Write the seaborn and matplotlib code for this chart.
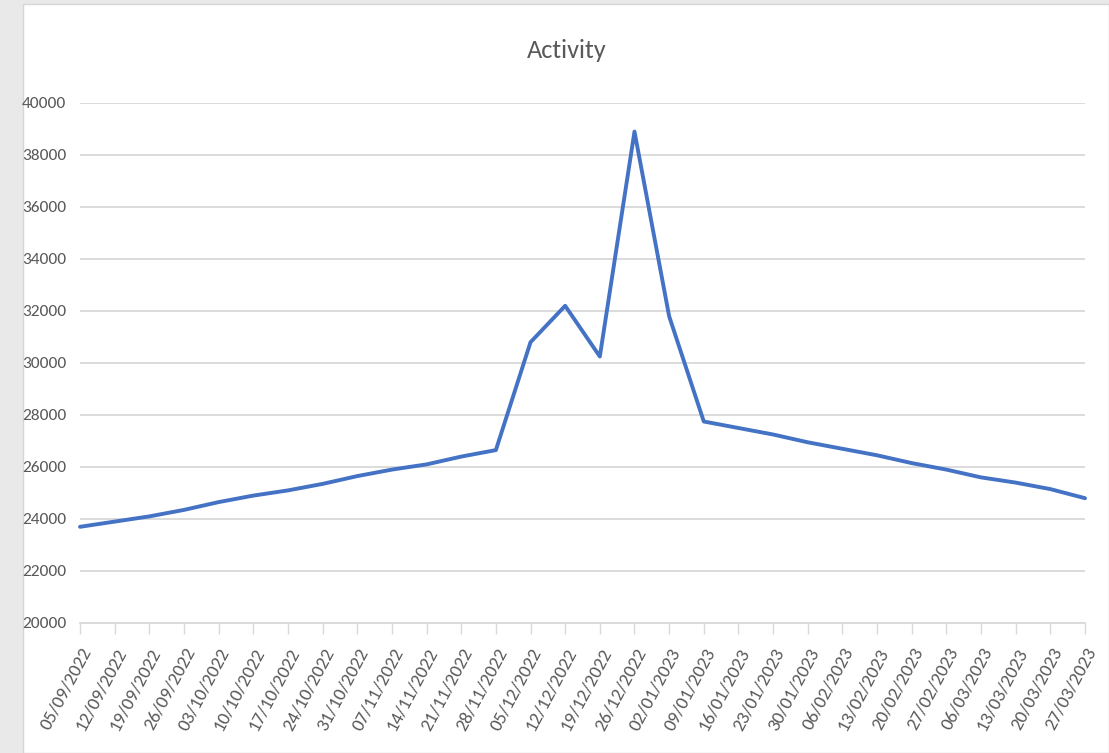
import numpy as np
import pandas as pd
import matplotlib
matplotlib.use("Agg")
import matplotlib.pyplot as plt
import seaborn as sns
from matplotlib import font_manager
from matplotlib.patches import Rectangle

dates = ["05/09/2022", "12/09/2022", "19/09/2022", "26/09/2022", "03/10/2022", "10/10/2022",
         "17/10/2022", "24/10/2022", "31/10/2022", "07/11/2022", "14/11/2022", "21/11/2022",
         "28/11/2022", "05/12/2022", "12/12/2022", "19/12/2022", "26/12/2022", "02/01/2023",
         "09/01/2023", "16/01/2023", "23/01/2023", "30/01/2023", "06/02/2023", "13/02/2023",
         "20/02/2023", "27/02/2023", "06/03/2023", "13/03/2023", "20/03/2023", "27/03/2023"]
activity = [23700, 23900, 24100, 24350, 24650, 24900, 25100, 25350, 25650, 25900, 26100, 26400,
            26650, 30800, 32200, 30250, 38900, 31800, 27750, 27500, 27250, 26950, 26700, 26450,
            26150, 25900, 25600, 25400, 25150, 24800]
yticks = list(range(20000, 40001, 2000))

names = {f.name for f in font_manager.fontManager.ttflist}
family = "DejaVu Sans"
for cand in ["Carlito", "Liberation Sans Narrow", "Roboto Condensed", "Open Sans Condensed",
             "Arimo", "Liberation Sans"]:
    if cand in names:
        family = cand
        break

sns.set_theme(style="white")
plt.rcParams['font.family'] = [family, 'DejaVu Sans']

W, H = 1109, 753
fig = plt.figure(figsize=(W / 100, H / 100), dpi=100)
fig.patch.set_facecolor("#e9e9e9")
bg = Rectangle((23 / W, 0), 1 - 23 / W, 1 - 4 / H, transform=fig.transFigure,
               facecolor="white", edgecolor="#d6d6d6", linewidth=1, zorder=-10)
fig.patches.append(bg)

ax = fig.add_axes([80 / W, 1 - 623 / H, (1085 - 80) / W, (623 - 103) / H])
ax.set_zorder(5)
ax.set_facecolor("none")

df = pd.DataFrame({"pos": np.arange(len(dates)), "activity": activity})
sns.lineplot(data=df, x="pos", y="activity", ax=ax, color="#4472C4", linewidth=2.8,
             clip_on=False, zorder=3)

ax.set_xlim(0, len(dates) - 1)
ax.set_ylim(20000, 40000)
ax.set_yticks(yticks)
ax.set_yticklabels([str(v) for v in yticks], fontsize=12.5, color="#595959")
ax.set_xticks(np.arange(len(dates)))
ax.set_xticklabels(dates, rotation=62, ha="right", va="top", rotation_mode="anchor",
                   fontsize=13.5, color="#595959")
ax.grid(axis="y", color="#d9d9d9", linewidth=1.3)
for s in ["top", "right", "left"]:
    ax.spines[s].set_visible(False)
ax.spines["bottom"].set_color("#d9d9d9")
ax.spines["bottom"].set_linewidth(1.3)
ax.tick_params(axis="y", length=0, pad=10)
ax.tick_params(axis="x", length=8, width=1, color="#d9d9d9", pad=8, bottom=True)
ax.set_xlabel("")
ax.set_ylabel("")
fig.text(567 / W, 1 - 50 / H, "Activity", ha="center", va="center", fontsize=19, color="#595959")

fig.savefig("out.png", dpi=100)
